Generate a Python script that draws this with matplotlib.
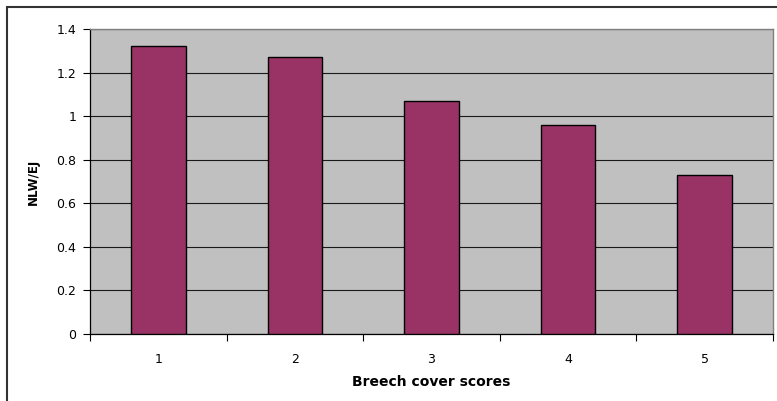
import matplotlib.pyplot as plt
from matplotlib.patches import Rectangle
from matplotlib.ticker import FixedLocator

plt.rcParams['font.family'] = ['DejaVu Sans']

# Данные: оценки покрытия и значения NLW/EJ
scores = [1, 2, 3, 4, 5]
score_labels = ['1', '2', '3', '4', '5']
nlw_ej = [1.32, 1.27, 1.07, 0.96, 0.73]
y_ticks = [0, 0.2, 0.4, 0.6, 0.8, 1.0, 1.2, 1.4]
y_tick_labels = ['0', '0.2', '0.4', '0.6', '0.8', '1', '1.2', '1.4']

fig = plt.figure(figsize=(7.77, 4.01), dpi=100)
ax = fig.add_axes([90 / 777, 1 - 334 / 401, 683 / 777, 305 / 401])

# рамка вокруг всей диаграммы
fig.patches.append(Rectangle((7 / 777, -0.05), 1.0, 1.05 - 7 / 401,
                             transform=fig.transFigure, fill=False,
                             edgecolor='#333333', linewidth=1.5))

ax.set_facecolor('#C0C0C0')
ax.bar(scores, nlw_ej, width=0.4, color='#993366', edgecolor='black',
       linewidth=1.0, zorder=3)

ax.set_xlim(0.5, 5.5)
ax.set_ylim(0, 1.4)
ax.set_yticks(y_ticks)
ax.set_yticklabels(y_tick_labels)
ax.yaxis.grid(True, color='#1a1a1a', linewidth=0.8, zorder=1)

# подписи категорий без делений, деления между столбцами
ax.set_xticks(scores)
ax.set_xticklabels(score_labels)
ax.tick_params(axis='x', which='major', length=0, pad=14, labelsize=9)
ax.xaxis.set_minor_locator(FixedLocator([0.5, 1.5, 2.5, 3.5, 4.5, 5.5]))
ax.tick_params(axis='x', which='minor', length=5, width=0.8, direction='out')
ax.tick_params(axis='y', length=5, width=0.8, pad=5, labelsize=9)

for side in ['top', 'right']:
    ax.spines[side].set_color('#808080')
    ax.spines[side].set_linewidth(1.0)
for side in ['left', 'bottom']:
    ax.spines[side].set_color('black')
    ax.spines[side].set_linewidth(0.9)

ax.set_xlabel('Breech cover scores', fontsize=10, fontweight='bold', labelpad=6)
ax.set_ylabel('NLW/EJ', fontsize=8.5, fontweight='bold', labelpad=12)

fig.savefig('out.png', dpi=100)
